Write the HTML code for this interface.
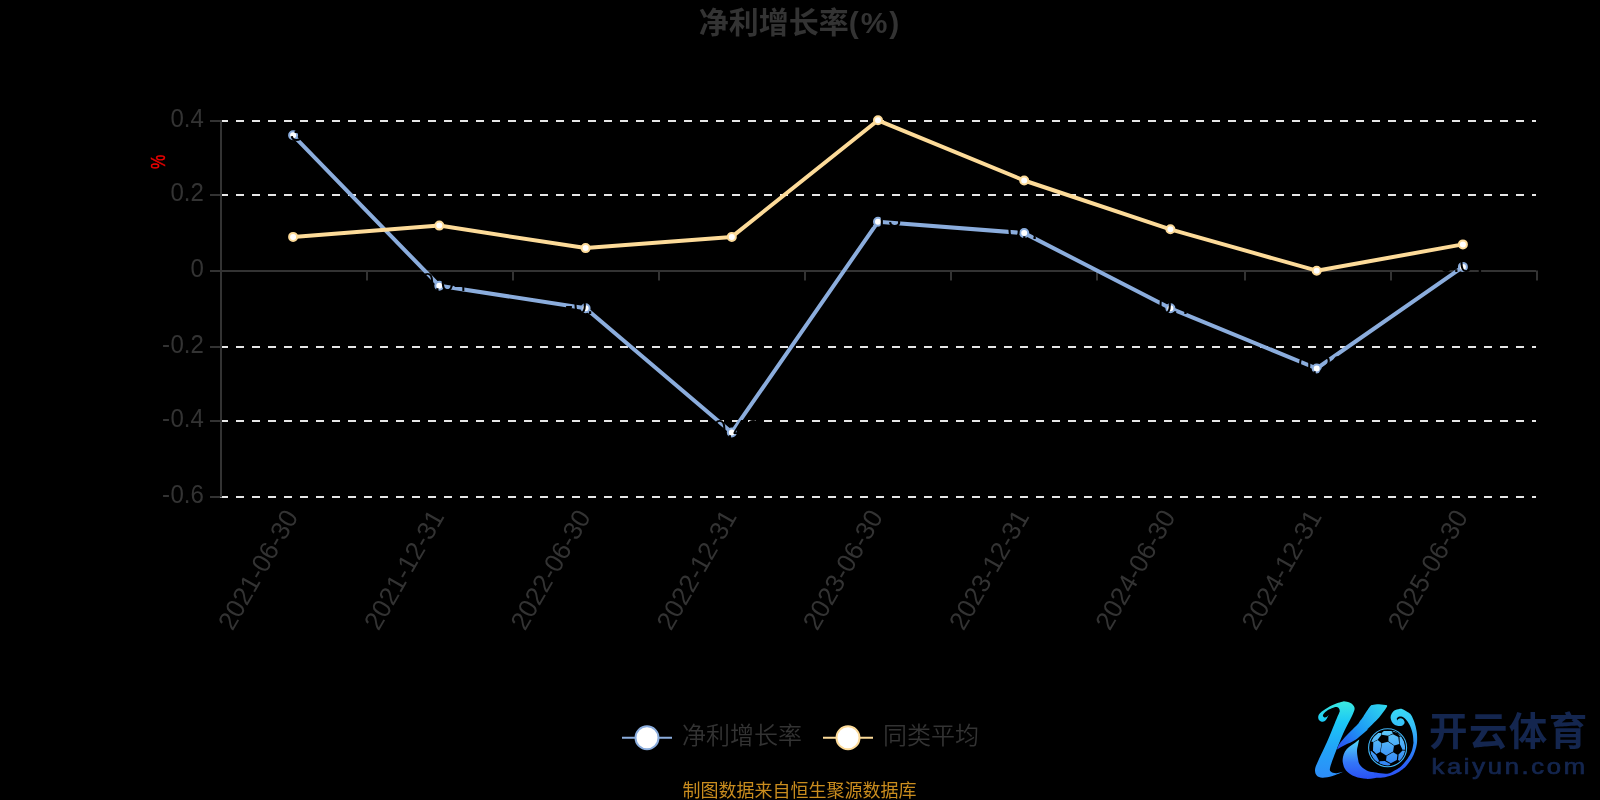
<!DOCTYPE html>
<html lang="zh-CN"><head><meta charset="utf-8"><title>净利增长率(%)</title>
<style>
html,body{margin:0;padding:0;background:#000;}
body{width:1600px;height:800px;overflow:hidden;font-family:"Liberation Sans","Noto Sans CJK SC",sans-serif;}
svg{display:block;will-change:transform;}
text{font-family:"Liberation Sans","Noto Sans CJK SC",sans-serif;}
</style></head><body>
<svg width="1600" height="800" viewBox="0 0 1600 800">
<rect width="1600" height="800" fill="#000"/>
<text x="698.7" y="33.1" font-size="30" font-weight="bold" fill="#333">净利增长率<tspan letter-spacing="2">(%)</tspan></text>
<line x1="220" y1="121" x2="1536" y2="121" stroke="#e6e6e6" stroke-width="2" stroke-dasharray="8 8"/>
<line x1="220" y1="195" x2="1536" y2="195" stroke="#e6e6e6" stroke-width="2" stroke-dasharray="8 8"/>
<line x1="220" y1="347" x2="1536" y2="347" stroke="#e6e6e6" stroke-width="2" stroke-dasharray="8 8"/>
<line x1="220" y1="421" x2="1536" y2="421" stroke="#e6e6e6" stroke-width="2" stroke-dasharray="8 8"/>
<line x1="220" y1="497" x2="1536" y2="497" stroke="#e6e6e6" stroke-width="2" stroke-dasharray="8 8"/>
<line x1="221" y1="120" x2="221" y2="497.5" stroke="#333333" stroke-width="2"/>
<line x1="210" y1="121" x2="220" y2="121" stroke="#333333" stroke-width="2"/>
<text transform="translate(0,126.5) scale(1,1.07)" x="170.50 183.83 190.47" font-size="24" fill="#333333">0.4</text>
<line x1="210" y1="195" x2="220" y2="195" stroke="#333333" stroke-width="2"/>
<text transform="translate(0,200.5) scale(1,1.07)" x="170.50 183.83 190.47" font-size="24" fill="#333333">0.2</text>
<line x1="210" y1="271" x2="220" y2="271" stroke="#333333" stroke-width="2"/>
<text transform="translate(0,276.5) scale(1,1.07)" x="190.47" font-size="24" fill="#333333">0</text>
<line x1="210" y1="347" x2="220" y2="347" stroke="#333333" stroke-width="2"/>
<text transform="translate(0,352.5) scale(1,1.07)" x="161.89 170.51 183.83 190.48" font-size="24" fill="#333333">-0.2</text>
<line x1="210" y1="421" x2="220" y2="421" stroke="#333333" stroke-width="2"/>
<text transform="translate(0,426.5) scale(1,1.07)" x="161.89 170.51 183.83 190.48" font-size="24" fill="#333333">-0.4</text>
<line x1="210" y1="497" x2="220" y2="497" stroke="#333333" stroke-width="2"/>
<text transform="translate(0,502.5) scale(1,1.07)" x="161.89 170.51 183.83 190.48" font-size="24" fill="#333333">-0.6</text>
<line x1="220" y1="271" x2="1536" y2="271" stroke="#333333" stroke-width="2"/>
<line x1="367" y1="270.4" x2="367" y2="280.4" stroke="#333333" stroke-width="2"/>
<line x1="513" y1="270.4" x2="513" y2="280.4" stroke="#333333" stroke-width="2"/>
<line x1="659" y1="270.4" x2="659" y2="280.4" stroke="#333333" stroke-width="2"/>
<line x1="805" y1="270.4" x2="805" y2="280.4" stroke="#333333" stroke-width="2"/>
<line x1="951" y1="270.4" x2="951" y2="280.4" stroke="#333333" stroke-width="2"/>
<line x1="1097" y1="270.4" x2="1097" y2="280.4" stroke="#333333" stroke-width="2"/>
<line x1="1245" y1="270.4" x2="1245" y2="280.4" stroke="#333333" stroke-width="2"/>
<line x1="1391" y1="270.4" x2="1391" y2="280.4" stroke="#333333" stroke-width="2"/>
<line x1="1537" y1="270.4" x2="1537" y2="280.4" stroke="#333333" stroke-width="2"/>
<text transform="translate(165.4,162) rotate(-90) scale(1,1.28)" text-anchor="middle" font-size="16" fill="#f00000" stroke="#f00000" stroke-width="0.35">%</text>
<text transform="translate(291.1,512) rotate(-60)" text-anchor="end" dominant-baseline="central" font-size="26" fill="#333333">2021-06-30</text>
<text transform="translate(437.3,512) rotate(-60)" text-anchor="end" dominant-baseline="central" font-size="26" fill="#333333">2021-12-31</text>
<text transform="translate(583.6,512) rotate(-60)" text-anchor="end" dominant-baseline="central" font-size="26" fill="#333333">2022-06-30</text>
<text transform="translate(729.8,512) rotate(-60)" text-anchor="end" dominant-baseline="central" font-size="26" fill="#333333">2022-12-31</text>
<text transform="translate(876.0,512) rotate(-60)" text-anchor="end" dominant-baseline="central" font-size="26" fill="#333333">2023-06-30</text>
<text transform="translate(1022.2,512) rotate(-60)" text-anchor="end" dominant-baseline="central" font-size="26" fill="#333333">2023-12-31</text>
<text transform="translate(1168.4,512) rotate(-60)" text-anchor="end" dominant-baseline="central" font-size="26" fill="#333333">2024-06-30</text>
<text transform="translate(1314.7,512) rotate(-60)" text-anchor="end" dominant-baseline="central" font-size="26" fill="#333333">2024-12-31</text>
<text transform="translate(1460.9,512) rotate(-60)" text-anchor="end" dominant-baseline="central" font-size="26" fill="#333333">2025-06-30</text>
<polyline points="293.1,135.3 439.3,285.7 585.6,308.3 731.8,432.4 878.0,221.8 1024.2,233.1 1170.4,308.3 1316.7,368.5 1462.9,266.9" fill="none" stroke="#8BADDD" stroke-width="4" stroke-linejoin="bevel"/>
<circle cx="293.1" cy="135.3" r="4" fill="#fff" stroke="#8BADDD" stroke-width="2"/>
<circle cx="439.3" cy="285.7" r="4" fill="#fff" stroke="#8BADDD" stroke-width="2"/>
<circle cx="585.6" cy="308.3" r="4" fill="#fff" stroke="#8BADDD" stroke-width="2"/>
<circle cx="731.8" cy="432.4" r="4" fill="#fff" stroke="#8BADDD" stroke-width="2"/>
<circle cx="878.0" cy="221.8" r="4" fill="#fff" stroke="#8BADDD" stroke-width="2"/>
<circle cx="1024.2" cy="233.1" r="4" fill="#fff" stroke="#8BADDD" stroke-width="2"/>
<circle cx="1170.4" cy="308.3" r="4" fill="#fff" stroke="#8BADDD" stroke-width="2"/>
<circle cx="1316.7" cy="368.5" r="4" fill="#fff" stroke="#8BADDD" stroke-width="2"/>
<circle cx="1462.9" cy="266.9" r="4" fill="#fff" stroke="#8BADDD" stroke-width="2"/>
<text transform="translate(0,140.8) scale(1,1.07)" x="269.80 283.13 289.77 303.07" font-size="24" fill="#000">0.36</text>
<text transform="translate(0,291.2) scale(1,1.07)" x="412.05 420.67 434.00 440.64 453.94" font-size="24" fill="#000">-0.04</text>
<clipPath id="lc2"><path clip-rule="evenodd" d="M0 0H1600V800H0Z M594.72 311.30H599.42V314.60H594.72Z M601.77 311.30H606.22V314.60H601.77Z"/></clipPath>
<g clip-path="url(#lc2)"><text transform="translate(0,313.8) scale(1,1.07)" x="564.93 573.55 586.87 593.52" font-size="24" fill="#000">-0.1</text></g>
<text transform="translate(0,437.9) scale(1,1.07)" x="704.50 713.12 726.44 733.09 746.39" font-size="24" fill="#000">-0.43</text>
<clipPath id="lc4"><path clip-rule="evenodd" d="M0 0H1600V800H0Z M875.86 224.82H880.56V228.12H875.86Z M882.91 224.82H887.36V228.12H882.91Z"/></clipPath>
<g clip-path="url(#lc4)"><text transform="translate(0,227.3) scale(1,1.07)" x="854.69 868.01 874.66 887.96" font-size="24" fill="#000">0.13</text></g>
<clipPath id="lc5"><path clip-rule="evenodd" d="M0 0H1600V800H0Z M1028.73 236.10H1033.43V239.40H1028.73Z M1035.78 236.10H1040.23V239.40H1035.78Z"/></clipPath>
<g clip-path="url(#lc5)"><text transform="translate(0,238.6) scale(1,1.07)" x="1007.56 1020.89 1027.53" font-size="24" fill="#000">0.1</text></g>
<clipPath id="lc6"><path clip-rule="evenodd" d="M0 0H1600V800H0Z M1179.60 311.30H1184.30V314.60H1179.60Z M1186.65 311.30H1191.10V314.60H1186.65Z"/></clipPath>
<g clip-path="url(#lc6)"><text transform="translate(0,313.8) scale(1,1.07)" x="1149.81 1158.43 1171.76 1178.40" font-size="24" fill="#000">-0.1</text></g>
<text transform="translate(0,374.0) scale(1,1.07)" x="1289.39 1298.01 1311.33 1317.98 1331.28" font-size="24" fill="#000">-0.26</text>
<clipPath id="lc8"><path clip-rule="evenodd" d="M0 0H1600V800H0Z M1474.05 269.94H1478.75V273.24H1474.05Z M1481.10 269.94H1485.55V273.24H1481.10Z"/></clipPath>
<g clip-path="url(#lc8)"><text transform="translate(0,272.4) scale(1,1.07)" x="1439.58 1452.90 1459.55 1472.85" font-size="24" fill="#000">0.01</text></g>
<polyline points="293.1,236.9 439.3,225.6 585.6,248.1 731.8,236.9 878.0,120.3 1024.2,180.5 1170.4,229.3 1316.7,270.7 1462.9,244.4" fill="none" stroke="#FDDB99" stroke-width="4" stroke-linejoin="bevel"/>
<circle cx="293.1" cy="236.9" r="4" fill="#fff" stroke="#FDDB99" stroke-width="2"/>
<circle cx="439.3" cy="225.6" r="4" fill="#fff" stroke="#FDDB99" stroke-width="2"/>
<circle cx="585.6" cy="248.1" r="4" fill="#fff" stroke="#FDDB99" stroke-width="2"/>
<circle cx="731.8" cy="236.9" r="4" fill="#fff" stroke="#FDDB99" stroke-width="2"/>
<circle cx="878.0" cy="120.3" r="4" fill="#fff" stroke="#FDDB99" stroke-width="2"/>
<circle cx="1024.2" cy="180.5" r="4" fill="#fff" stroke="#FDDB99" stroke-width="2"/>
<circle cx="1170.4" cy="229.3" r="4" fill="#fff" stroke="#FDDB99" stroke-width="2"/>
<circle cx="1316.7" cy="270.7" r="4" fill="#fff" stroke="#FDDB99" stroke-width="2"/>
<circle cx="1462.9" cy="244.4" r="4" fill="#fff" stroke="#FDDB99" stroke-width="2"/>
<line x1="622" y1="737.75" x2="672" y2="737.75" stroke="#8BADDD" stroke-width="2"/>
<circle cx="647" cy="737.75" r="11.5" fill="#fff" stroke="#8BADDD" stroke-width="2"/>
<text x="682" y="744.35" font-size="24" font-weight="350" fill="#333333">净利增长率</text>
<line x1="823" y1="737.75" x2="873" y2="737.75" stroke="#FDDB99" stroke-width="2"/>
<circle cx="848" cy="737.75" r="11.5" fill="#fff" stroke="#FDDB99" stroke-width="2"/>
<text x="883" y="744.35" font-size="24" font-weight="350" fill="#333333">同类平均</text>
<text x="799.5" y="796.7" text-anchor="middle" font-size="18" fill="#c98c1e">制图数据来自恒生聚源数据库</text>
<defs>
<linearGradient id="gStem" gradientUnits="userSpaceOnUse" x1="0" y1="701" x2="0" y2="778"><stop offset="0" stop-color="#3ceadf"/><stop offset="0.27" stop-color="#1cc8f6"/><stop offset="0.6" stop-color="#22a5f8"/><stop offset="1" stop-color="#2d8cf8"/></linearGradient>
<linearGradient id="gArm" gradientUnits="userSpaceOnUse" x1="1385" y1="704" x2="1340" y2="750"><stop offset="0" stop-color="#2fd8ee"/><stop offset="0.55" stop-color="#1e9af5"/><stop offset="1" stop-color="#2a4df2"/></linearGradient>
<linearGradient id="gSwirl" gradientUnits="userSpaceOnUse" x1="0" y1="708" x2="0" y2="778"><stop offset="0" stop-color="#38dcf6"/><stop offset="0.25" stop-color="#36c0f8"/><stop offset="0.53" stop-color="#2d8df8"/><stop offset="0.82" stop-color="#2b60f7"/><stop offset="1" stop-color="#2a52f5"/></linearGradient>
<linearGradient id="gSwirlL" gradientUnits="userSpaceOnUse" x1="0" y1="739" x2="0" y2="778"><stop offset="0" stop-color="#52dcfa"/><stop offset="0.28" stop-color="#46aef9"/><stop offset="0.6" stop-color="#3477f8"/><stop offset="1" stop-color="#2a52f5"/></linearGradient>
<clipPath id="clipL"><rect x="1300" y="690" width="74" height="110"/></clipPath>
<clipPath id="clipR"><rect x="1374" y="690" width="60" height="110"/></clipPath>
<linearGradient id="gBall" gradientUnits="userSpaceOnUse" x1="0" y1="729" x2="0" y2="767"><stop offset="0" stop-color="#62cdfa"/><stop offset="1" stop-color="#2f7ff6"/></linearGradient>
<clipPath id="ballClip"><circle cx="1387.6" cy="747.7" r="17.7"/></clipPath>
</defs>
<path d="M1359.25 739.50C1358.38 740.17 1355.71 742.25 1354.00 743.50C1352.29 744.75 1350.50 745.67 1349.00 747.00C1347.50 748.33 1346.00 749.83 1345.00 751.50C1344.00 753.17 1343.35 755.08 1343.00 757.00C1342.65 758.92 1342.40 760.76 1342.90 763.00C1343.40 765.24 1344.00 768.16 1346.02 770.42C1348.05 772.69 1351.65 775.21 1355.03 776.62C1358.41 778.02 1362.71 778.67 1366.29 778.87C1369.87 779.07 1373.38 778.09 1376.50 777.80C1379.62 777.51 1381.83 777.80 1385.00 777.13C1388.17 776.45 1392.75 774.94 1395.50 773.75C1398.25 772.56 1399.75 771.25 1401.50 770.00C1403.25 768.75 1404.31 768.13 1406.00 766.25C1407.69 764.38 1410.13 761.25 1411.63 758.75C1413.13 756.25 1414.13 753.75 1415.00 751.25C1415.88 748.75 1416.53 746.25 1416.88 743.75C1417.23 741.25 1417.18 738.54 1417.10 736.25C1417.02 733.96 1416.81 732.29 1416.37 730.00C1415.94 727.71 1415.37 725.00 1414.50 722.50C1413.62 720.00 1412.29 716.73 1411.12 715.00C1409.96 713.27 1408.91 713.07 1407.50 712.12C1406.08 711.18 1404.00 709.84 1402.62 709.31C1401.25 708.78 1400.62 708.72 1399.25 708.94C1397.87 709.16 1395.69 709.72 1394.37 710.62C1393.06 711.53 1392.00 713.12 1391.37 714.37C1390.75 715.62 1390.50 716.81 1390.62 718.12C1390.75 719.44 1391.31 721.06 1392.12 722.25C1392.94 723.43 1394.31 724.62 1395.50 725.25C1396.69 725.87 1398.08 725.95 1399.25 726.00C1400.42 726.04 1401.65 725.90 1402.50 725.50C1403.35 725.10 1404.06 724.31 1404.37 723.62C1404.69 722.94 1404.62 722.12 1404.37 721.37C1404.12 720.62 1403.50 719.62 1402.87 719.12C1402.25 718.62 1401.37 718.37 1400.62 718.37C1399.87 718.37 1398.94 718.75 1398.37 719.12C1397.81 719.50 1397.44 720.37 1397.25 720.62C1397.19 720.25 1396.62 719.03 1396.87 718.37C1397.12 717.72 1398.00 717.00 1398.75 716.69C1399.50 716.37 1400.44 716.28 1401.37 716.50C1402.31 716.72 1403.37 717.19 1404.37 718.00C1405.37 718.81 1406.44 720.06 1407.37 721.37C1408.31 722.69 1409.25 724.31 1410.00 725.87C1410.75 727.44 1411.37 729.06 1411.87 730.75C1412.37 732.44 1412.75 734.25 1413.00 736.00C1413.25 737.75 1413.32 739.96 1413.37 741.25C1413.43 742.54 1413.64 742.08 1413.35 743.75C1413.06 745.42 1412.60 748.75 1411.63 751.25C1410.65 753.75 1409.25 756.25 1407.50 758.75C1405.75 761.25 1403.13 764.38 1401.13 766.25C1399.13 768.13 1397.81 768.75 1395.50 770.00C1393.19 771.25 1390.50 773.32 1387.25 773.75C1384.00 774.18 1379.42 773.15 1376.00 772.60C1372.58 772.05 1369.42 771.69 1366.75 770.42C1364.09 769.16 1361.46 766.90 1360.00 765.00C1358.54 763.10 1358.50 761.33 1358.00 759.00C1357.50 756.67 1357.00 753.33 1357.00 751.00C1357.00 748.67 1357.62 746.92 1358.00 745.00C1358.38 743.08 1359.04 740.42 1359.25 739.50Z" fill="url(#gSwirlL)" clip-path="url(#clipL)"/>
<path d="M1359.25 739.50C1358.38 740.17 1355.71 742.25 1354.00 743.50C1352.29 744.75 1350.50 745.67 1349.00 747.00C1347.50 748.33 1346.00 749.83 1345.00 751.50C1344.00 753.17 1343.35 755.08 1343.00 757.00C1342.65 758.92 1342.40 760.76 1342.90 763.00C1343.40 765.24 1344.00 768.16 1346.02 770.42C1348.05 772.69 1351.65 775.21 1355.03 776.62C1358.41 778.02 1362.71 778.67 1366.29 778.87C1369.87 779.07 1373.38 778.09 1376.50 777.80C1379.62 777.51 1381.83 777.80 1385.00 777.13C1388.17 776.45 1392.75 774.94 1395.50 773.75C1398.25 772.56 1399.75 771.25 1401.50 770.00C1403.25 768.75 1404.31 768.13 1406.00 766.25C1407.69 764.38 1410.13 761.25 1411.63 758.75C1413.13 756.25 1414.13 753.75 1415.00 751.25C1415.88 748.75 1416.53 746.25 1416.88 743.75C1417.23 741.25 1417.18 738.54 1417.10 736.25C1417.02 733.96 1416.81 732.29 1416.37 730.00C1415.94 727.71 1415.37 725.00 1414.50 722.50C1413.62 720.00 1412.29 716.73 1411.12 715.00C1409.96 713.27 1408.91 713.07 1407.50 712.12C1406.08 711.18 1404.00 709.84 1402.62 709.31C1401.25 708.78 1400.62 708.72 1399.25 708.94C1397.87 709.16 1395.69 709.72 1394.37 710.62C1393.06 711.53 1392.00 713.12 1391.37 714.37C1390.75 715.62 1390.50 716.81 1390.62 718.12C1390.75 719.44 1391.31 721.06 1392.12 722.25C1392.94 723.43 1394.31 724.62 1395.50 725.25C1396.69 725.87 1398.08 725.95 1399.25 726.00C1400.42 726.04 1401.65 725.90 1402.50 725.50C1403.35 725.10 1404.06 724.31 1404.37 723.62C1404.69 722.94 1404.62 722.12 1404.37 721.37C1404.12 720.62 1403.50 719.62 1402.87 719.12C1402.25 718.62 1401.37 718.37 1400.62 718.37C1399.87 718.37 1398.94 718.75 1398.37 719.12C1397.81 719.50 1397.44 720.37 1397.25 720.62C1397.19 720.25 1396.62 719.03 1396.87 718.37C1397.12 717.72 1398.00 717.00 1398.75 716.69C1399.50 716.37 1400.44 716.28 1401.37 716.50C1402.31 716.72 1403.37 717.19 1404.37 718.00C1405.37 718.81 1406.44 720.06 1407.37 721.37C1408.31 722.69 1409.25 724.31 1410.00 725.87C1410.75 727.44 1411.37 729.06 1411.87 730.75C1412.37 732.44 1412.75 734.25 1413.00 736.00C1413.25 737.75 1413.32 739.96 1413.37 741.25C1413.43 742.54 1413.64 742.08 1413.35 743.75C1413.06 745.42 1412.60 748.75 1411.63 751.25C1410.65 753.75 1409.25 756.25 1407.50 758.75C1405.75 761.25 1403.13 764.38 1401.13 766.25C1399.13 768.13 1397.81 768.75 1395.50 770.00C1393.19 771.25 1390.50 773.32 1387.25 773.75C1384.00 774.18 1379.42 773.15 1376.00 772.60C1372.58 772.05 1369.42 771.69 1366.75 770.42C1364.09 769.16 1361.46 766.90 1360.00 765.00C1358.54 763.10 1358.50 761.33 1358.00 759.00C1357.50 756.67 1357.00 753.33 1357.00 751.00C1357.00 748.67 1357.62 746.92 1358.00 745.00C1358.38 743.08 1359.04 740.42 1359.25 739.50Z" fill="url(#gSwirl)" clip-path="url(#clipR)"/>
<path d="M1337.00 749.50C1337.42 748.54 1337.83 746.17 1339.50 743.75C1341.17 741.33 1344.08 738.12 1347.00 735.00C1349.92 731.88 1354.83 727.35 1357.00 725.00C1359.17 722.65 1358.94 722.33 1360.00 720.89C1361.06 719.46 1361.69 718.83 1363.38 716.39C1365.07 713.95 1368.63 708.17 1370.13 706.26C1371.63 704.34 1372.01 705.13 1372.38 704.91C1373.51 704.79 1376.70 704.19 1379.14 704.23C1381.58 704.27 1385.70 704.98 1387.02 705.13C1386.92 705.54 1387.77 705.54 1386.46 707.61C1385.14 709.67 1382.42 713.80 1379.14 717.51C1375.85 721.23 1368.28 728.23 1366.75 729.90C1365.23 731.56 1371.79 725.90 1370.00 727.50C1368.21 729.10 1360.17 736.58 1356.00 739.50C1351.83 742.42 1348.17 743.33 1345.00 745.00C1341.83 746.67 1338.33 748.75 1337.00 749.50Z" fill="url(#gArm)"/>
<path d="M1328.69 715.06C1328.22 715.90 1326.84 719.00 1325.87 720.12C1324.90 721.25 1323.94 721.75 1322.87 721.81C1321.81 721.87 1320.28 721.22 1319.50 720.50C1318.72 719.78 1318.19 718.62 1318.19 717.50C1318.19 716.37 1318.34 715.12 1319.50 713.75C1320.66 712.37 1322.62 710.81 1325.12 709.25C1327.62 707.69 1331.37 705.69 1334.50 704.37C1337.62 703.06 1342.31 701.87 1343.87 701.37C1344.98 701.63 1348.76 701.88 1350.53 702.88C1352.29 703.88 1354.09 705.51 1354.47 707.38C1354.84 709.26 1354.56 710.01 1352.78 714.14C1351.00 718.27 1346.59 725.96 1343.77 732.15C1340.96 738.34 1338.14 745.47 1335.89 751.29C1333.64 757.10 1331.11 763.67 1330.26 767.05C1329.42 770.42 1329.89 770.52 1330.83 771.55C1331.76 772.58 1333.73 773.24 1335.89 773.24C1338.05 773.24 1342.46 771.83 1343.77 771.55C1341.90 772.30 1336.08 775.02 1332.51 776.05C1328.95 777.09 1325.01 777.84 1322.38 777.74C1319.76 777.65 1317.97 776.90 1316.75 775.49C1315.53 774.08 1314.78 771.83 1315.07 769.30C1315.35 766.77 1316.47 764.80 1318.44 760.29C1320.41 755.79 1324.17 748.47 1326.89 742.28C1329.61 736.09 1332.62 728.27 1334.77 723.14C1336.91 718.01 1338.92 713.44 1339.75 711.50C1339.68 711.12 1339.75 709.94 1339.37 709.25C1339.00 708.56 1338.31 707.72 1337.50 707.37C1336.68 707.03 1335.93 706.81 1334.50 707.19C1333.06 707.56 1330.56 708.65 1328.87 709.62C1327.19 710.59 1325.37 712.00 1324.37 713.00C1323.37 714.00 1322.87 714.87 1322.87 715.62C1322.87 716.37 1323.69 717.31 1324.37 717.50C1325.06 717.69 1326.28 717.15 1327.00 716.75C1327.72 716.34 1328.40 715.34 1328.69 715.06Z" fill="url(#gStem)"/>
<circle cx="1387.6" cy="747.7" r="19" fill="none" stroke="#3fb4f7" stroke-width="1.1"/>
<g clip-path="url(#ballClip)" fill="url(#gBall)">
<polygon points="1381.70,733.00 1383.80,731.08 1391.59,731.08 1392.91,733.60 1388.00,735.76 1381.70,734.80"/>
<polygon points="1382.00,743.20 1388.00,741.76 1393.99,745.72 1393.09,751.59 1386.20,755.49 1380.62,751.89"/>
<polygon points="1388.42,736.00 1392.91,734.20 1398.31,736.90 1399.21,744.10 1394.41,745.48 1388.42,741.28"/>
<polygon points="1373.30,742.30 1377.80,739.90 1381.58,743.32 1380.08,751.89 1376.30,753.99 1373.00,750.39"/>
<polygon points="1371.20,741.40 1373.60,736.90 1378.10,733.00 1381.10,733.00 1381.28,735.10 1377.98,739.30 1373.30,741.88"/>
<polygon points="1399.51,736.72 1401.49,736.90 1404.19,742.00 1405.69,749.79 1402.51,749.79 1399.81,744.10"/>
<polygon points="1386.62,755.91 1393.21,752.19 1397.41,754.71 1396.81,759.99 1390.81,763.29 1386.02,760.59"/>
<polygon points="1370.30,751.29 1371.32,751.11 1376.00,755.01 1379.00,760.71 1378.22,762.39 1373.60,759.39 1370.90,754.59"/>
<polygon points="1379.42,761.31 1384.70,761.01 1390.39,764.01 1389.49,765.99 1383.80,765.99 1379.30,762.99"/>
<polygon points="1398.61,754.41 1402.51,750.39 1405.69,750.69 1404.49,756.39 1400.59,761.49 1398.01,759.99"/>
<polygon points="1392.19,731.20 1395.19,730.60 1399.99,733.00 1402.39,736.90 1399.99,736.30 1397.59,733.00"/>
</g>
<text transform="translate(1429,745.0) scale(1,1.01)" font-size="38.5" font-weight="700" fill="#14264f" textLength="158.2" lengthAdjust="spacing">开云体育</text>
<text transform="translate(1431.4,773.7) scale(1.22,1.06)" font-size="21" font-weight="400" fill="#14264f" stroke="#14264f" stroke-width="0.7" textLength="126" lengthAdjust="spacing">kaiyun.com</text>
</svg>
</body></html>
